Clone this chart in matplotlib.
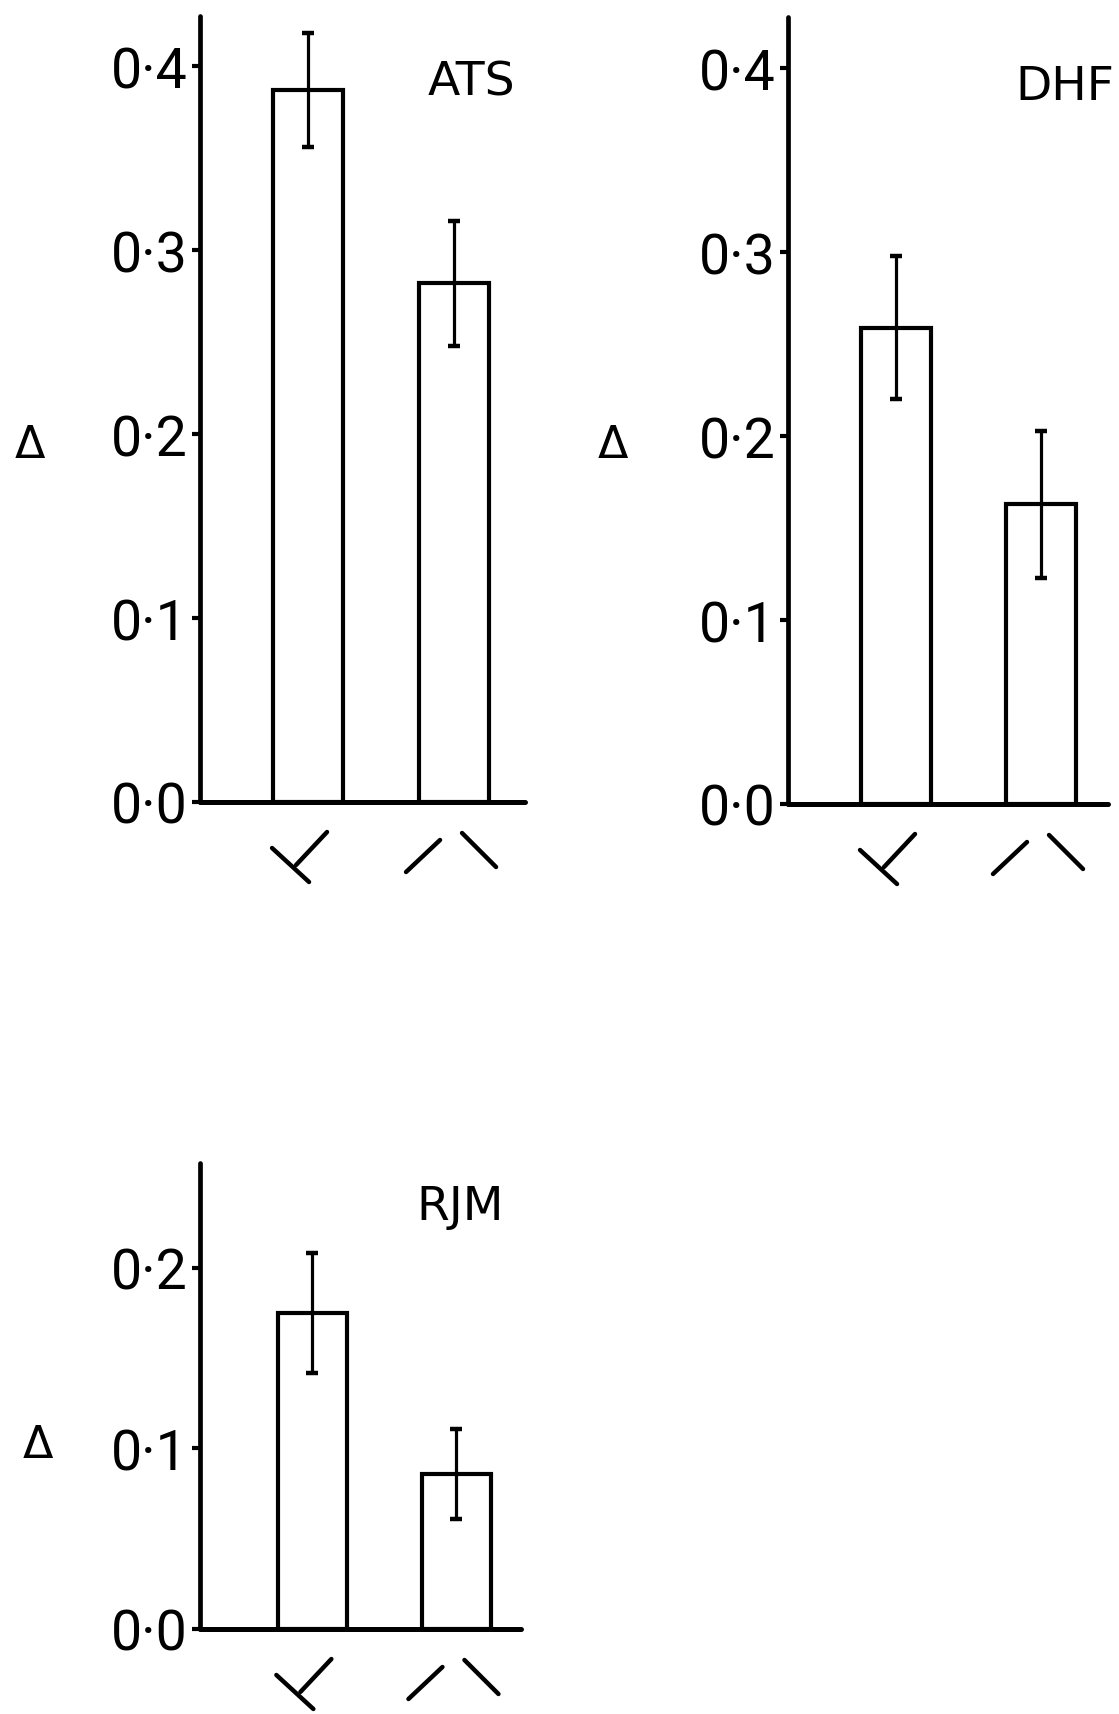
import matplotlib
matplotlib.use("Agg")
import matplotlib.pyplot as plt
from matplotlib.transforms import Affine2D, ScaledTranslation

# data
subjects = ["ATS", "DHF", "RJM"]
ats_means = [0.387, 0.282]
ats_errs = [0.031, 0.034]
dhf_means = [0.259, 0.163]
dhf_errs = [0.039, 0.040]
rjm_means = [0.175, 0.086]
rjm_errs = [0.033, 0.025]
ticks_tall = [0.0, 0.1, 0.2, 0.3, 0.4]
ticks_short = [0.0, 0.1, 0.2]

W, H = 1119, 1715
TICK_FONT = ["Roboto", "DejaVu Sans"]
TEXT_FONT = ["DejaVu Sans"]

# stimulus glyphs drawn under each bar (pixel offsets from bar centre / baseline, y down)
glyph_tee = [[(-36, 46), (1, 80)], [(19, 30), (-12, 63)]]
glyph_vee = [[(-48, 70), (-14, 38)], [(8, 31), (42, 65)]]


def px_axes(fig, left, right, top, bottom):
    return fig.add_axes([left / W, (H - bottom) / H, (right - left) / W, (bottom - top) / H])


def draw_glyph(ax, fig, xc, segs):
    trans = Affine2D().scale(1, -1).scale(fig.dpi / 100.0) + ScaledTranslation(
        xc, 0, ax.get_xaxis_transform())
    for (x0, y0), (x1, y1) in segs:
        ax.plot([x0, x1], [y0, y1], color="black", lw=3.2, solid_capstyle="round",
                transform=trans, clip_on=False)


def panel(fig, rect, means, errs, ticks, ytop, xlim, name, name_xy, delta_xy):
    ax = px_axes(fig, *rect)
    xs = [0, 1]
    ax.bar(xs, means, width=0.48, facecolor="white", edgecolor="black",
           linewidth=3, zorder=2)
    ax.errorbar(xs, means, yerr=errs, fmt="none", ecolor="black", elinewidth=2.3,
                capsize=4, capthick=3.2, zorder=3)
    ax.set_xlim(*xlim)
    ax.set_ylim(0, ytop)
    ax.set_yticks(ticks)
    ax.set_yticklabels([f"{t:.1f}".replace(".", "\u00b7") for t in ticks],
                       family=TICK_FONT, fontsize=40)
    ax.set_xticks([])
    ax.tick_params(axis="y", direction="out", length=6, width=3, pad=3)
    for s in ["top", "right"]:
        ax.spines[s].set_visible(False)
    ax.spines["left"].set_linewidth(3.4)
    ax.spines["bottom"].set_linewidth(3.6)
    ax.spines["left"].set_capstyle("round")
    ax.spines["bottom"].set_capstyle("round")
    draw_glyph(ax, fig, xs[0], glyph_tee)
    draw_glyph(ax, fig, xs[1], glyph_vee)
    fig.text(name_xy[0] / W, 1 - name_xy[1] / H, name, family=TEXT_FONT,
             fontsize=34, ha="center", va="center")
    fig.text(delta_xy[0] / W, 1 - delta_xy[1] / H, "\u0394", family=TEXT_FONT,
             fontsize=32, ha="center", va="center")
    return ax


fig = plt.figure(figsize=(W / 100, H / 100), dpi=100)

panel(fig, (200, 525, 17, 803), ats_means, ats_errs, ticks_tall, 0.4272,
      (-0.74, 1.486), subjects[0], (471, 83), (30, 445))
panel(fig, (788, 1108, 18, 805), dhf_means, dhf_errs, ticks_tall, 0.428,
      (-0.745, 1.462), subjects[1], (1065, 88), (613, 446))
panel(fig, (200, 521, 1164, 1630), rjm_means, rjm_errs, ticks_short, 0.258,
      (-0.78, 1.448), subjects[2], (460, 1208), (38, 1446))

fig.savefig("out.png", dpi=100)
